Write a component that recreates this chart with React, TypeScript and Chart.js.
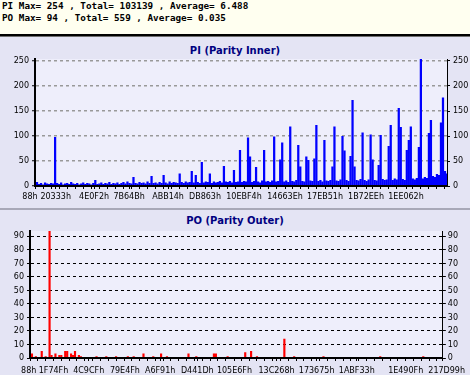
import React, { useEffect, useRef } from 'react';
import { Chart, registerables } from 'chart.js';

Chart.register(...registerables);

// ---------- data ----------
const headerLines = [
  'PI Max= 254 , Total= 103139 , Average= 6.488',
  'PO Max= 94 , Total= 559 , Average= 0.035',
];

const piTitle = 'PI (Parity Inner)';
const poTitle = 'PO (Parity Outer)';

// PI samples (sample index along the disc)
const piValues = [
  5, 8, 4, 6, 3, 7, 5, 4, 6, 5, 98, 6, 4, 7, 3, 5, 6, 4, 8, 5,
  4, 6, 3, 5, 7, 4, 6, 5, 3, 6, 12, 4, 5, 7, 4, 6, 5, 8, 4, 6,
  5, 7, 4, 6, 8, 5, 9, 6, 5, 18, 6, 5, 8, 6, 7, 5, 9, 6, 20, 6,
  7, 5, 8, 6, 22, 7, 5, 9, 6, 8, 7, 6, 25, 8, 6, 9, 7, 8, 30, 7,
  22, 8, 6, 48, 7, 9, 8, 25, 6, 9, 7, 8, 10, 7, 40, 9, 8, 10, 7, 32,
  8, 9, 72, 8, 10, 9, 97, 59, 8, 10, 38, 9, 7, 11, 72, 9, 10, 8, 11, 99,
  9, 10, 53, 87, 9, 11, 8, 119, 10, 9, 12, 82, 39, 10, 9, 59, 52, 11, 10, 55,
  122, 10, 12, 9, 92, 11, 10, 12, 39, 119, 11, 10, 13, 100, 71, 12, 10, 60, 172, 39,
  12, 11, 14, 107, 12, 10, 13, 103, 53, 12, 11, 42, 102, 14, 12, 13, 80, 122, 12, 15,
  13, 156, 118, 14, 12, 72, 92, 119, 15, 13, 16, 78, 254, 15, 18, 16, 106, 132, 20, 18,
  24, 22, 127, 177, 30, 25,
];
const piTickLabels = ['88h    ', '20333h', '4E0F2h', '7B64Bh', 'ABB14h', 'DB863h', '10EBF4h', '14663Eh', '17EB51h', '1B72EEh', '1EE062h'];
const piTickIndex = [0, 10.3, 29.4, 46.8, 66.2, 84.6, 104, 124.4, 144.3, 164.7, 184.6];
const piYMax = 254;
const piYStep = 50;

// PO samples
const poValues = [
  0, 3, 0, 1, 0, 0, 5, 0, 1, 0, 94, 2, 0, 3, 0, 2, 2, 0, 5, 5,
  0, 3, 2, 5, 0, 2, 1, 0, 0, 0, 0, 0, 0, 0, 1, 0, 0, 0, 0, 1,
  0, 0, 0, 0, 1, 0, 0, 0, 0, 0, 1, 0, 0, 1, 0, 0, 0, 0, 3, 0,
  0, 0, 0, 1, 0, 0, 0, 3, 0, 0, 1, 0, 0, 0, 0, 0, 0, 0, 0, 0,
  0, 3, 0, 0, 0, 1, 0, 0, 0, 0, 0, 0, 0, 0, 3, 3, 0, 0, 0, 0,
  0, 1, 0, 0, 0, 0, 0, 0, 0, 0, 4, 0, 0, 5, 0, 0, 1, 0, 0, 0,
  0, 0, 0, 0, 0, 0, 0, 0, 0, 0, 14, 0, 0, 0, 0, 1, 0, 0, 0, 0,
  0, 0, 0, 0, 0, 0, 0, 0, 0, 0, 1, 0, 0, 0, 0, 0, 0, 0, 0, 0,
  0, 0, 0, 0, 0, 0, 0, 0, 0, 0, 0, 0, 0, 0, 0, 0, 0, 0, 0, 1,
  0, 0, 0, 0, 0, 0, 0, 0, 0, 0, 0, 0, 0, 0, 0, 0, 0, 0, 0, 0,
  0, 1, 0, 0, 0, 0, 0, 0, 0, 0, 0, 0,
];
const poTickLabels = ['88h ', '1F74Fh', '4C9CFh', '79E4Fh', 'A6F91h', 'D441Dh', '105E6Fh', '13C268h', '173675h', '1ABF33h', '1E490Fh', '   217D99h'];
const poTickIndex = [0, 12, 30, 48.5, 66.5, 85.5, 104.5, 126, 146.5, 167, 192, 211];
const poYMax = 94;
const poYStep = 10;

// ---------- styling ----------
const PANEL_BG = '#E4E4F4';
const PLOT_BG = '#EEEEFB';
const AXIS_FONT = { family: 'DejaVu Sans', size: 8 };

const plotBg = {
  id: 'plotBg',
  beforeDraw(chart: any, _a: any, opts: any) {
    const { ctx, chartArea } = chart;
    if (!chartArea) return;
    ctx.save();
    ctx.fillStyle = opts.color || PLOT_BG;
    ctx.fillRect(chartArea.left, chartArea.top, chartArea.right - chartArea.left, chartArea.bottom - chartArea.top);
    ctx.restore();
  },
};

type Cfg = {
  values: number[];
  color: string;
  barWidth?: number;
  yMax: number;
  yStep: number;
  tickIdx: number[];
  tickLabels: string[];
  minorStep: number;
  leftW: number;
  rightW: number;
  xH: number;
  padTop: number;
  gridColor: string;
  gridWidth: number;
  gridDash: number[];
  xLabelPad: number;
  rightPad: number;
};

function buildChart(canvas: HTMLCanvasElement, c: Cfg) {
  const n = c.values.length;
  const data = c.values.map((v, i) => ({ x: i, y: v }));
  const labelMap = new Map<number, string>();
  c.tickIdx.forEach((v, i) => labelMap.set(v, c.tickLabels[i]));
  const tickVals: number[] = [...c.tickIdx];
  for (let v = 0; v <= n - 1; v += c.minorStep) {
    if (!c.tickIdx.some((t) => Math.abs(t - v) < 1)) tickVals.push(v);
  }
  tickVals.sort((a, b) => a - b);

  const dataset: any = {
    data,
    backgroundColor: c.color,
    borderWidth: 0,
    yAxisID: 'y',
  };
  if (c.barWidth) dataset.barThickness = c.barWidth;
  else {
    dataset.barPercentage = 1;
    dataset.categoryPercentage = 1.12;
  }

  return new Chart(canvas, {
    type: 'bar',
    data: { datasets: [dataset] },
    plugins: [plotBg],
    options: {
      responsive: false,
      animation: false,
      layout: { padding: { top: c.padTop, left: 0, right: 0, bottom: 0 } },
      plugins: {
        legend: { display: false },
        tooltip: { enabled: false },
        title: { display: false },
        plotBg: { color: PLOT_BG },
      } as any,
      scales: {
        x: {
          type: 'linear',
          min: 0,
          max: n - 1,
          offset: false,
          afterBuildTicks: (s: any) => {
            s.ticks = tickVals.map((v) => ({ value: v }));
          },
          afterFit: (s: any) => {
            s.height = c.xH;
          },
          ticks: {
            autoSkip: false,
            maxRotation: 0,
            minRotation: 0,
            color: '#000',
            font: AXIS_FONT,
            padding: c.xLabelPad,
            callback: (v: any) => labelMap.get(v) ?? '',
          },
          grid: { drawOnChartArea: false, drawTicks: true, tickLength: 3, tickColor: '#000', offset: false },
          border: { color: '#000', width: 2, z: 1 },
        },
        y: {
          type: 'linear',
          position: 'left',
          min: 0,
          max: c.yMax,
          afterFit: (s: any) => {
            s.width = c.leftW;
          },
          ticks: { stepSize: c.yStep, includeBounds: false, color: '#000', font: AXIS_FONT, padding: 3 },
          grid: { color: c.gridColor, lineWidth: c.gridWidth, tickLength: 3, tickColor: '#000', tickBorderDash: [], tickWidth: 1 },
          border: { color: '#000', width: 2, dash: c.gridDash, z: 1 },
        },
        y2: {
          type: 'linear',
          position: 'right',
          min: 0,
          max: c.yMax,
          afterFit: (s: any) => {
            s.width = c.rightW;
          },
          ticks: { stepSize: c.yStep, includeBounds: false, color: '#000', font: AXIS_FONT, padding: c.rightPad },
          grid: { drawOnChartArea: false, tickLength: 3, tickColor: '#000' },
          border: { color: '#000', width: 1, z: 1 },
        },
      } as any,
    },
  } as any);
}

export default function App() {
  const piRef = useRef<HTMLCanvasElement>(null);
  const poRef = useRef<HTMLCanvasElement>(null);

  useEffect(() => {
    document.body.style.margin = '0';
    const a = buildChart(piRef.current!, {
      values: piValues,
      color: '#0000FF',
      yMax: piYMax,
      yStep: piYStep,
      tickIdx: piTickIndex,
      tickLabels: piTickLabels,
      minorStep: 4,
      leftW: 35,
      rightW: 23,
      xH: 21,
      padTop: 22,
      gridColor: '#999999',
      gridWidth: 1.5,
      gridDash: [3, 3],
      xLabelPad: 3,
      rightPad: 3,
    });
    const b = buildChart(poRef.current!, {
      values: poValues,
      color: '#FF0000',
      barWidth: 1.5,
      yMax: poYMax,
      yStep: poYStep,
      tickIdx: poTickIndex,
      tickLabels: poTickLabels,
      minorStep: 4,
      leftW: 30,
      rightW: 22,
      xH: 17,
      padTop: 21,
      gridColor: '#000000',
      gridWidth: 1,
      gridDash: [3, 3],
      xLabelPad: 5,
      rightPad: 2,
    });
    return () => {
      a.destroy();
      b.destroy();
    };
  }, []);

  const titleStyle: React.CSSProperties = {
    position: 'absolute',
    left: 0,
    width: 470,
    textAlign: 'center',
    font: 'bold 10px "DejaVu Sans"',
    lineHeight: '12px',
    color: '#000080',
  };

  return (
    <div style={{ position: 'relative', width: 470, height: 375, background: PANEL_BG, overflow: 'hidden' }}>
      <div style={{ position: 'absolute', left: 0, top: 0, width: 470, height: 34, background: '#FFFFF0' }} />
      <div
        style={{
          position: 'absolute',
          left: 2,
          top: 0,
          font: 'bold 9.3px "DejaVu Sans Mono"',
          lineHeight: '12px',
          color: '#000',
          whiteSpace: 'pre',
        }}
      >
        {headerLines[0]}
        <br />
        {headerLines[1]}
      </div>
      <div style={{ position: 'absolute', left: 0, top: 34, width: 470, height: 1.5, background: '#000' }} />
      <div style={{ position: 'absolute', left: 0, top: 35.5, width: 470, height: 0.8, background: '#F4F4FA' }} />
      <div style={{ position: 'absolute', left: 0, top: 36, width: 470, height: 1, background: '#707070' }} />
      <div style={{ ...titleStyle, top: 45 }}>{piTitle}</div>
      <canvas ref={piRef} width={470} height={170} style={{ position: 'absolute', left: 0, top: 37, width: 470, height: 170 }} />
      <div style={{ position: 'absolute', left: 0, top: 208, width: 470, height: 2, background: '#A8A8B8' }} />
      <div style={{ ...titleStyle, top: 215 }}>{poTitle}</div>
      <canvas ref={poRef} width={470} height={165} style={{ position: 'absolute', left: 0, top: 210, width: 470, height: 165 }} />
    </div>
  );
}
